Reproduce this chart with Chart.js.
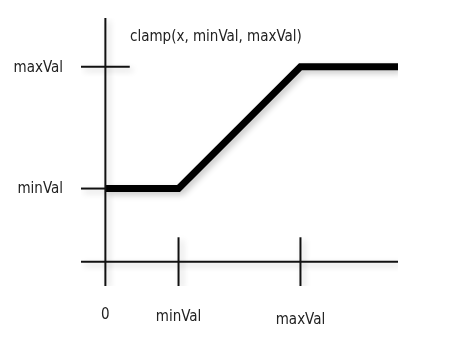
<!DOCTYPE html>
<html>
<head>
<meta charset="utf-8">
<script src="https://cdn.jsdelivr.net/npm/chart.js@4"></script>
<style>
  html, body { margin: 0; padding: 0; background: #fff; }
  #wrap { width: 465px; height: 344px; }
</style>
</head>
<body>
<div id="wrap"><canvas id="clampChart"></canvas></div>
<script>
// values (abstract units: minVal = 3, maxVal = 8)
const xTicks = [0, 3, 8];
const xTickLabels = ['0', 'minVal', 'maxVal'];
const yTicks = [3, 8];
const yTickLabels = ['minVal', 'maxVal'];
const curveX = [0, 3, 8, 12];
const curveY = [3, 3, 8, 8];
const titleText = 'clamp(x, minVal, maxVal)';

const FONT = '15px "Liberation Sans Narrow", "DejaVu Sans Condensed", sans-serif';

function pts(xs, ys) {
    return xs.map((x, i) => ({ x: x, y: ys[i] }));
}

// axis lines + tick marks
const axisSets = [
    pts([-1, 12], [0, 0]),
    pts([0, 0], [-1, 10]),
    pts([-1, 1], [8, 8]),
    pts([-1, 0], [3, 3]),
    pts([3, 3], [-1, 1]),
    pts([8, 8], [-1, 1])
].map(d => ({
    data: d,
    borderColor: '#111',
    borderWidth: 2,
    pointRadius: 0,
    showLine: true,
    fill: false
}));

const curveSet = {
    data: pts(curveX, curveY),
    borderColor: '#000',
    borderWidth: 7,
    borderJoinStyle: 'miter',
    borderCapStyle: 'butt',
    pointRadius: 0,
    showLine: true,
    fill: false
};

// soft drop shadow like the printed figure
const shadowPlugin = {
    id: 'shadow',
    beforeDatasetsDraw(chart) {
        const c = chart.ctx;
        c.save();
        c.shadowColor = 'rgba(0,0,0,0.22)';
        c.shadowBlur = 6;
        c.shadowOffsetX = 3;
        c.shadowOffsetY = 3;
    },
    afterDatasetsDraw(chart) {
        chart.ctx.restore();
    }
};

// tick labels and title as text
const labelPlugin = {
    id: 'labels',
    afterDraw(chart) {
        const c = chart.ctx;
        const xs = chart.scales.x, ys = chart.scales.y;
        c.save();
        c.font = FONT;
        c.fillStyle = '#222';
        c.textBaseline = 'middle';
        c.textAlign = 'center';
        const drop = [29, 31, 34];
        xTicks.forEach((v, i) => {
            c.fillText(xTickLabels[i], xs.getPixelForValue(v), ys.getPixelForValue(-1) + drop[i]);
        });
        c.textAlign = 'right';
        yTicks.forEach((v, i) => {
            c.fillText(yTickLabels[i], 63, ys.getPixelForValue(v) + 1);
        });
        c.textAlign = 'left';
        c.fillText(titleText, 130, 37);
        c.restore();
    }
};

new Chart(document.getElementById('clampChart'), {
    type: 'scatter',
    data: { datasets: [...axisSets, curveSet] },
    options: {
        responsive: true,
        maintainAspectRatio: false,
        animation: false,
        layout: { padding: { left: 81, right: 67, top: 18, bottom: 58 } },
        scales: {
            x: { type: 'linear', min: -1, max: 12, display: false },
            y: { type: 'linear', min: -1, max: 10, display: false }
        },
        plugins: {
            legend: { display: false },
            tooltip: { enabled: false }
        }
    },
    plugins: [shadowPlugin, labelPlugin]
});
</script>
</body>
</html>
